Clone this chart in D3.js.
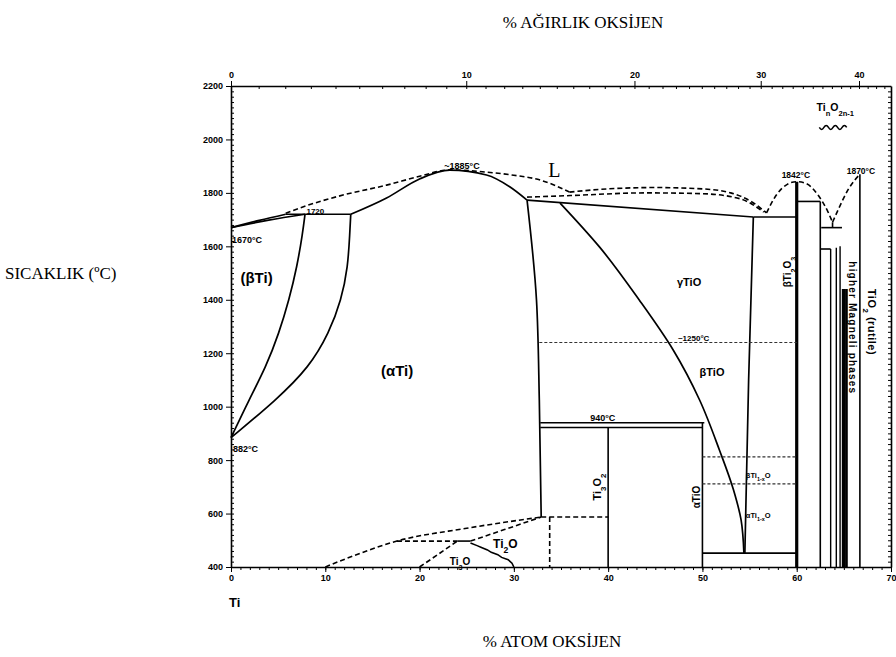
<!DOCTYPE html>
<html>
<head>
<meta charset="utf-8">
<script src="https://cdn.jsdelivr.net/npm/d3@7"></script>
<style>
  body { margin: 0; background: #fff; }
  svg { display: block; }
  .axis path, .axis line { stroke: #000; }
  .axis text { font-family: "Liberation Sans", Arial, sans-serif; font-weight: bold; font-size: 9px; fill: #000; }
  .title { font-family: "Liberation Serif", "Times New Roman", serif; font-size: 17px; fill: #000; }
  .lbl { font-family: "Liberation Sans", Arial, sans-serif; font-weight: bold; fill: #000; }
</style>
</head>
<body>
<svg id="chart" width="896" height="657"></svg>
<script>
// axis ticks
const tempTicks = [400, 600, 800, 1000, 1200, 1400, 1600, 1800, 2000, 2200];
const atTicks = [0, 10, 20, 30, 40, 50, 60, 70];
const wtTicks = [0, 10, 20, 30, 40];

// phase boundaries, [at% O, T in C]
// curves that run left to right
const betaLiquidus = [[0, 1670], [3, 1697], [5.8, 1720]];
const betaSolidus = [[0, 1670], [4, 1698], [7.85, 1720]];
const alphaLiquidus = [[12.7, 1720], [16.5, 1781], [20, 1852], [23.2, 1885], [27.1, 1867], [29.6, 1822], [31.4, 1773]];
// curves that run top to bottom
const betaTransus = [[7.85, 1720], [7.6, 1650], [7.0, 1523], [6.15, 1399], [5.1, 1276], [3.7, 1148], [1.9, 1025], [0, 884]];
const alphaTransus = [[12.7, 1720], [12.6, 1650], [12.4, 1523], [11.7, 1399], [10.4, 1276], [8.3, 1148], [4.8, 1025], [0, 884]];
const alphaSolvus = [[31.4, 1773], [32.4, 1399], [32.7, 1025], [32.9, 587]];
const gammaTiO = [[34.9, 1762], [39.1, 1597], [43.3, 1399], [46.9, 1212], [49.7, 1025], [51.8, 838], [53.3, 688], [54.1, 576], [54.4, 452]];
const tioRight = [[55.4, 1710], [54.9, 1100], [54.5, 452]];

// straight solid segments
const peritectic1720 = [[5.8, 1720], [12.7, 1720]];
const tioSolidus = [[31.4, 1773], [55.4, 1710]];
const eutectic1710 = [[55.4, 1710], [60, 1710]];
const tioBottom = [[50, 452], [60, 452]];
const line940 = [[32.8, 940], [50.2, 940]];
const line922 = [[32.8, 922], [50, 922]];
const ti3o2Line = [[40, 922], [40, 400]];
const alphaTiOLine = [[50, 940], [50, 400]];
const ti3o5Top = [[60, 1768], [62.5, 1768]];
const ti3o5Line = [[62.5, 1768], [62.5, 400]];
const ti4o7Top = [[62.5, 1590], [63.6, 1590]];
const magneliEutectic = [[62.6, 1670], [64.8, 1670]];
const magneliStem = [[63.8, 1690], [63.8, 1670]];
const ti3oTop = [[24, 497], [25.4, 497]];
const ti3oRight = [[25.4, 490], [26.1, 480], [26.5, 474], [27.2, 464], [27.6, 455], [28.3, 446], [28.7, 436], [29.4, 427], [29.8, 414], [30, 400]];

// line compounds
const ti2o3Line = [[60, 1842], [60, 400]];
const rutileLine = [[66.7, 1870], [66.7, 400]];
const magneliX = [63.6, 64.2, 64.6, 64.9, 65.1, 65.3];
const magneliTop = [1590, 1595, 1600, 1440, 1440, 1440];

// dashed
const liquidusDashed = [[5.8, 1724], [8, 1752], [12, 1793], [16.5, 1829], [20, 1862], [23.2, 1886], [27, 1878], [30, 1866], [32.8, 1848], [35.9, 1803]];
const tioDomeUpper = [[35.9, 1803], [40, 1815], [45, 1820], [50, 1815], [53, 1800], [55.3, 1765], [56.8, 1725]];
const tioDomeLower = [[31.4, 1784], [36, 1790], [44, 1800], [50, 1797], [54, 1778], [56.5, 1728]];
const ti2o3Dome = [[56.8, 1725], [57.8, 1790], [59, 1832], [60, 1842], [61, 1835], [62.3, 1790], [63.3, 1730], [63.8, 1690]];
const rutileDome = [[63.8, 1690], [64.5, 1745], [65.5, 1815], [66.7, 1870]];
const ti2oOuter = [[10, 400], [13, 442], [17.6, 497], [25, 545], [32.9, 587]];
const ti3oLeft = [[20, 400], [22, 448], [24, 497]];
const ti3oRightDashed = [[25.4, 497], [29, 540], [32.9, 587]];
const ti2oInner = [[17.6, 497], [24, 497]];
const ti2oVertical = [[33.8, 587], [33.8, 400]];
const ti2oTop = [[32.9, 587], [40, 587]];
const line1240 = [[32.7, 1240], [60, 1240]];
const line812 = [[50, 812], [60, 812]];
const line711 = [[50, 711], [60, 711]];

// annotations in data coordinates
const labels = [
  { t: "L", x: 34.3, T: 1858, size: 20, serif: true, anchor: "middle" },
  { t: "~1885°C", x: 24.5, T: 1890, size: 9, anchor: "middle" },
  { t: "1720", x: 8.0, T: 1720, size: 8 },
  { t: "1670°C", x: 0.1, T: 1612, size: 9 },
  { t: "(βTi)", x: 1.0, T: 1463, size: 15 },
  { t: "882°C", x: 0.2, T: 830, size: 9 },
  { t: "(αTi)", x: 15.9, T: 1115, size: 15 },
  { t: "γTiO", x: 47.3, T: 1451, size: 11 },
  { t: "~1250°C", x: 47.4, T: 1244, size: 8 },
  { t: "βTiO", x: 49.7, T: 1115, size: 11 },
  { t: "940°C", x: 38.1, T: 945, size: 9 },
  { t: "Ti_2O", x: 27.8, T: 471, size: 12 },
  { t: "Ti_3O", x: 23.2, T: 407, size: 10 },
  { t: "Ti_{n}O_{2n-1}", x: 62.1, T: 2108, size: 10.5 },
  { t: "1842°C", x: 58.4, T: 1856, size: 8.5 },
  { t: "1870°C", x: 65.3, T: 1872, size: 8.5 },
  { t: "βTi_{1-x}O", x: 54.6, T: 733, size: 7.5 },
  { t: "αTi_{1-x}O", x: 54.6, T: 583, size: 7.5 },
  { t: "Ti_3O_2", x: 38.8, T: 699, size: 11, rot: -90, anchor: "middle" },
  { t: "αTiO", x: 49.4, T: 662, size: 10, rot: -90, anchor: "middle" },
  { t: "βTi_2O_3", x: 59.0, T: 1504, size: 10, rot: -90, anchor: "middle" },
  { t: "higher Magneli phases", x: 65.9, T: 1295, size: 10, rot: 90, anchor: "middle", spacing: 1.2 },
  { t: "TiO_2 (rutile)", x: 68.0, T: 1317, size: 11, rot: 90, anchor: "middle", spacing: 0.5 }
];

const svg = d3.select("#chart");
const x = d3.scaleLinear().domain([0, 70]).range([231, 891]);
const y = d3.scaleLinear().domain([400, 2200]).range([567, 86]);

// weight % O -> atom % O (Ti 47.87, O 16.00)
const wtToAt = w => 100 * (w / 16) / (w / 16 + (100 - w) / 47.87);
const wtSteps = d3.range(0, 44, 0.5).concat([43.8]);
const xTop = d3.scaleLinear().domain(wtSteps).range(wtSteps.map(w => x(wtToAt(w))));

// axes
svg.append("g").attr("class", "axis").attr("transform", "translate(0,567)")
  .call(d3.axisBottom(x).tickValues(d3.range(0, 71)).tickSize(3).tickSizeOuter(0).tickFormat(""));
svg.append("g").attr("class", "axis").attr("transform", "translate(0,567)")
  .call(d3.axisBottom(x).tickValues(atTicks).tickSize(5).tickSizeOuter(0))
  .call(g => g.select(".domain").remove());

svg.append("g").attr("class", "axis").attr("transform", "translate(0,86)")
  .call(d3.axisTop(xTop).tickValues(d3.range(0, 44)).tickSize(-3).tickSizeOuter(0).tickFormat(""));
svg.append("g").attr("class", "axis").attr("transform", "translate(0,86)")
  .call(d3.axisTop(xTop).tickValues(wtTicks).tickSize(5).tickSizeOuter(0).tickFormat(d3.format("d")))
  .call(g => g.select(".domain").remove());

svg.append("g").attr("class", "axis").attr("transform", "translate(231,0)")
  .call(d3.axisLeft(y).tickValues(d3.range(400, 2201, 20)).tickSize(-3).tickSizeOuter(0).tickFormat(""));
svg.append("g").attr("class", "axis").attr("transform", "translate(231,0)")
  .call(d3.axisLeft(y).tickValues(tempTicks).tickSize(5).tickSizeOuter(0).tickFormat(d3.format("d")))
  .call(g => g.select(".domain").remove());

svg.append("g").attr("class", "axis").attr("transform", "translate(891,0)")
  .call(d3.axisRight(y).tickValues(d3.range(400, 2201, 20)).tickSize(-3).tickSizeOuter(0).tickFormat(""));

svg.selectAll(".axis .domain").attr("stroke-width", 1.6);

// phase boundaries
const alongX = d3.line().x(d => x(d[0])).y(d => y(d[1])).curve(d3.curveMonotoneX);
const alongY = d3.line().x(d => x(d[0])).y(d => y(d[1])).curve(d3.curveMonotoneY);
const spline = d3.line().x(d => x(d[0])).y(d => y(d[1])).curve(d3.curveBasis);
const straight = d3.line().x(d => x(d[0])).y(d => y(d[1]));

const plot = svg.append("g").attr("fill", "none").attr("stroke", "#000");

plot.selectAll(".curveX")
  .data([betaLiquidus, betaSolidus, alphaLiquidus])
  .enter().append("path")
  .attr("d", alongX).attr("stroke-width", 1.7);

plot.selectAll(".transus")
  .data([betaTransus, alphaTransus])
  .enter().append("path")
  .attr("d", spline).attr("stroke-width", 1.7);

plot.selectAll(".curveY")
  .data([alphaSolvus, gammaTiO, tioRight])
  .enter().append("path")
  .attr("d", alongY).attr("stroke-width", 1.7);

plot.selectAll(".straight")
  .data([peritectic1720, tioSolidus, eutectic1710, tioBottom, line940, line922, ti3o2Line, alphaTiOLine,
         ti3o5Top, ti3o5Line, ti4o7Top, magneliEutectic, magneliStem, ti3oTop, ti3oRight])
  .enter().append("path")
  .attr("d", straight).attr("stroke-width", 1.6);

plot.append("path").attr("d", straight(ti2o3Line)).attr("stroke-width", 3.2);
plot.append("path").attr("d", straight(rutileLine)).attr("stroke-width", 1.6);

plot.selectAll(".magneli")
  .data(magneliX)
  .enter().append("path")
  .attr("d", (d, i) => straight([[d, magneliTop[i]], [d, 400]]))
  .attr("stroke-width", (d, i) => i >= 3 ? 2.2 : 1.4);

plot.selectAll(".dashed")
  .data([liquidusDashed, tioDomeUpper, tioDomeLower, ti2o3Dome, rutileDome, ti2oOuter, ti3oLeft, ti3oRightDashed])
  .enter().append("path")
  .attr("d", alongX).attr("stroke-width", 1.6).attr("stroke-dasharray", "5,3");

plot.selectAll(".dashedStraight")
  .data([ti2oInner, ti2oVertical, ti2oTop])
  .enter().append("path")
  .attr("d", straight).attr("stroke-width", 1.6).attr("stroke-dasharray", "5,3");

plot.selectAll(".thin")
  .data([line1240, line812, line711])
  .enter().append("path")
  .attr("d", straight).attr("stroke-width", 1.1).attr("stroke-dasharray", "3,2").attr("stroke", "#333");

// wavy brace under Ti_nO_2n-1
const wx = x(62.4), wy = y(2045), ww = (x(65.3) - x(62.4)) / 3;
plot.append("path")
  .attr("d", `M${wx},${wy}` + d3.range(3).map(() => ` q${ww / 4},4 ${ww / 2},0 q${ww / 4},-4 ${ww / 2},0`).join(""))
  .attr("stroke-width", 1.5);

// labels with subscripts
function writeText(sel, str) {
  str.split(/(_\{[^}]*\}|_.)/).filter(s => s).forEach(p => {
    if (p[0] === "_") {
      const t = p[1] === "{" ? p.slice(2, -1) : p.slice(1);
      sel.append("tspan").attr("baseline-shift", "sub").attr("font-size", "72%").text(t);
    } else {
      sel.append("tspan").text(p);
    }
  });
}

labels.forEach(l => {
  const px = x(l.x), py = y(l.T);
  const t = svg.append("text")
    .attr("class", "lbl")
    .attr("font-size", l.size + "px")
    .attr("text-anchor", l.anchor || "start")
    .attr("transform", l.rot ? `translate(${px},${py}) rotate(${l.rot})` : `translate(${px},${py})`)
    .attr("dy", l.rot ? "0.35em" : null);
  if (l.spacing) t.attr("letter-spacing", l.spacing);
  if (l.serif) t.style("font-family", "'Liberation Serif', serif").style("font-weight", "normal");
  writeText(t, l.t);
});

// titles
svg.append("text").attr("class", "title").attr("x", 583).attr("y", 28).attr("text-anchor", "middle").text("% AĞIRLIK OKSİJEN");
svg.append("text").attr("class", "title").attr("x", 552).attr("y", 647).attr("text-anchor", "middle").text("% ATOM OKSİJEN");
svg.append("text").attr("class", "title").attr("x", 5).attr("y", 279).text("SICAKLIK (ºC)");
svg.append("text").attr("class", "lbl").attr("font-size", "13px").attr("x", 229).attr("y", 607).text("Ti");
</script>
</body>
</html>
